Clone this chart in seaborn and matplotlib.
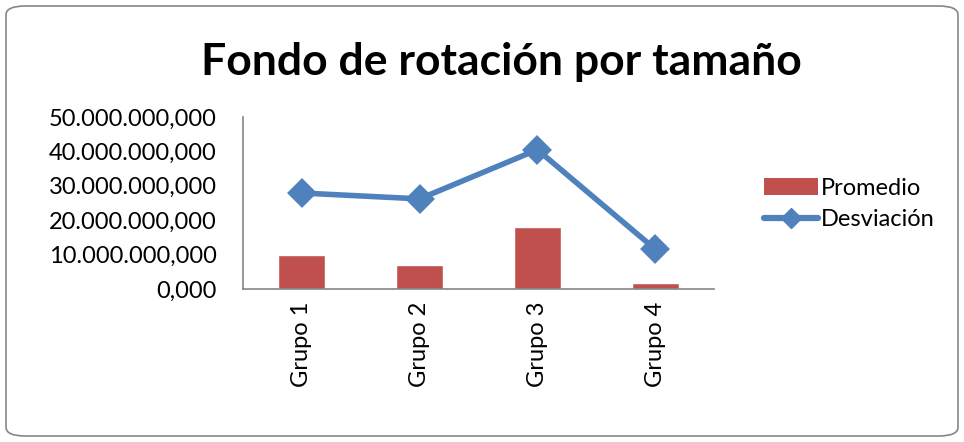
import matplotlib
matplotlib.use("Agg")
import matplotlib.pyplot as plt
import seaborn as sns
from matplotlib.patches import FancyBboxPatch, Patch
from matplotlib.lines import Line2D
from matplotlib.ticker import FuncFormatter

# Data
grupos = ["Grupo 1", "Grupo 2", "Grupo 3", "Grupo 4"]
promedio = [9.9e6, 7.1e6, 17.9e6, 1.7e6]
desviacion = [27.9e6, 26.2e6, 40.5e6, 11.6e6]
y_ticks = [0, 10e6, 20e6, 30e6, 40e6, 50e6]

bar_color = "#C0504D"
line_color = "#4F81BD"
axis_color = "#868686"

sns.set_style("white")
plt.rcParams["font.family"] = ["Lato", "DejaVu Sans"]
plt.rcParams["text.color"] = "black"
plt.rcParams["xtick.labelcolor"] = "black"
plt.rcParams["ytick.labelcolor"] = "black"

fig = plt.figure(figsize=(9.64, 4.42), dpi=100)
ax = fig.add_axes([243 / 964, 1 - 289 / 442, (714 - 243) / 964, (289 - 117) / 442])

sns.barplot(x=grupos, y=promedio, color=bar_color, width=0.4, saturation=1, ax=ax)
sns.pointplot(x=grupos, y=desviacion, color=line_color, markers="D",
              markersize=12, linewidth=4, ax=ax)

ax.set_xlim(-0.5, 3.5)
ax.set_ylim(0, 50e6)
ax.set_yticks(y_ticks)
fmt = lambda v, p: f"{v:,.3f}".replace(",", "X").replace(".", ",").replace("X", ".")
ax.yaxis.set_major_formatter(FuncFormatter(fmt))

# category boundaries as x ticks, labels centred on categories
ax.set_xticks([-0.5, 0.5, 1.5, 2.5, 3.5])
ax.set_xticklabels([])
ax.set_xticks(range(len(grupos)), minor=True)
ax.set_xticklabels(grupos, minor=True, rotation=90, fontsize=17)
ax.tick_params(axis="x", which="minor", length=0, pad=9)
ax.tick_params(axis="x", which="major", direction="inout", length=10, color=axis_color, width=1.2)
ax.tick_params(axis="y", direction="inout", length=10, color=axis_color, width=1.2, labelsize=17, pad=14)

for s in ["top", "right"]:
    ax.spines[s].set_visible(False)
for s in ["left", "bottom"]:
    ax.spines[s].set_color(axis_color)
    ax.spines[s].set_linewidth(1.2)
ax.set_xlabel("")
ax.set_ylabel("")

fig.text(0.520, 1 - 62 / 442, "Fondo de rotación por tamaño", ha="center", va="center",
         fontsize=32, fontweight="bold")

handles = [Patch(facecolor=bar_color, edgecolor="none"),
           Line2D([], [], color=line_color, marker="D", markersize=10, linewidth=4.5)]
fig.legend(handles, ["Promedio", "Desviación"], loc="center left",
           bbox_to_anchor=(752 / 964, 1 - 204 / 442), frameon=False, fontsize=17,
           handlelength=2.3, handletextpad=0.1, labelspacing=0.45, borderpad=0)

border = FancyBboxPatch((6 / 964, 6 / 442), 952 / 964, 430 / 442,
                        boxstyle="round,pad=0,rounding_size=0.02",
                        transform=fig.transFigure, facecolor="none",
                        edgecolor=axis_color, linewidth=1.2)
fig.patches.append(border)

fig.savefig("out.png", dpi=100)
